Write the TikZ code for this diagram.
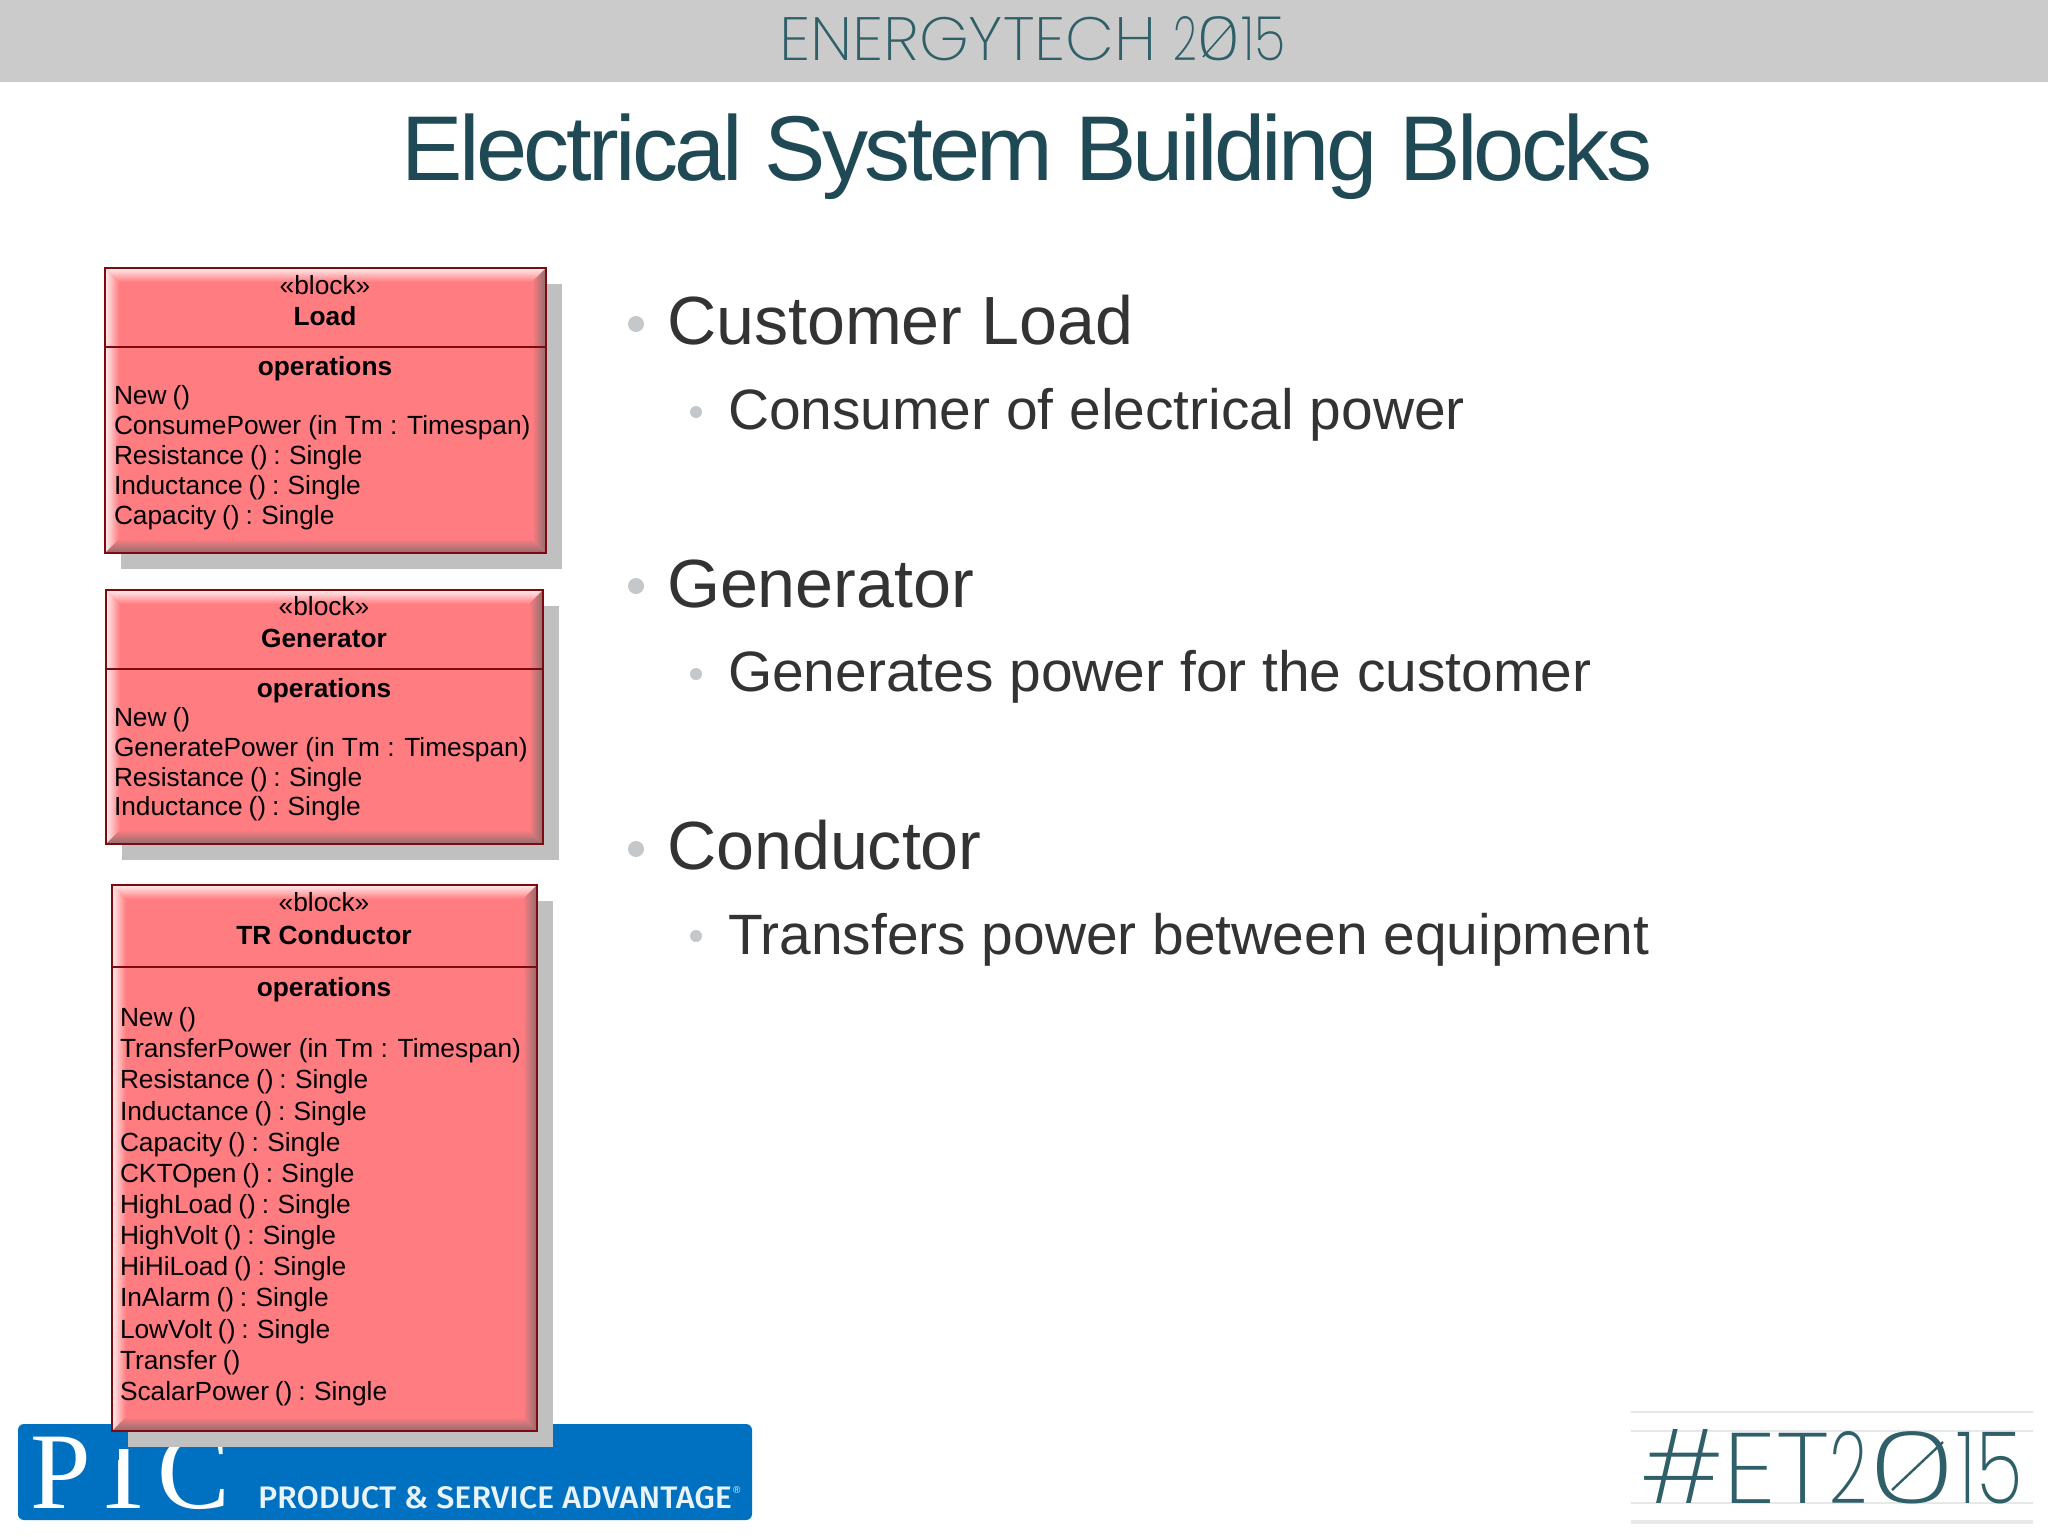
\documentclass[tikz,border=0pt]{standalone}
\usepackage{fontspec}
\usepackage{graphicx}
\setmainfont{Liberation Sans}
\newfontfamily\titlefont[LetterSpace=-3.9]{Liberation Sans}
\newfontfamily\thinfont{Poppins ExtraLight}
\newfontfamily\ptcserif{Liberation Serif}
\newfontfamily\ptcsans{Fira Sans Medium}
\usetikzlibrary{calc}
\definecolor{bandgray}{HTML}{CBCBCB}
\definecolor{teal}{HTML}{2F5F68}
\definecolor{titleteal}{HTML}{1F4A55}
\definecolor{bodytext}{HTML}{333333}
\definecolor{dotgray}{HTML}{C4C8CA}
\definecolor{blockred}{HTML}{FF7C80}
\definecolor{blockedge}{HTML}{7E0A10}
\definecolor{blocklight}{HTML}{FFEDEE}
\definecolor{blockdark}{HTML}{8C6E70}
\definecolor{shadowgray}{HTML}{C0C0C0}
\definecolor{ptcblue}{HTML}{0070C0}
\definecolor{rulegray}{HTML}{E6E8E9}
\definecolor{ptcwhite}{HTML}{E8F3FA}
\newcommand{\opfont}{\fontsize{13.15}{15}\selectfont\spaceskip=0.225em\relax}
\tikzset{
  x=0.5pt,y=-0.5pt,
  every node/.style={inner sep=0pt,outer sep=0pt},
  boxlong/.style={font=\fontsize{13.15}{15}\selectfont,anchor=base west,text=black},
  boxtext/.style={font=\opfont,anchor=base west,text=black},
  boxhead/.style={font=\fontsize{13.15}{15}\selectfont,anchor=base,text=black},
  boxbold/.style={font=\fontsize{13.15}{15}\selectfont\bfseries,anchor=base,text=black},
  bigitem/.style={font=\fontsize{34.1}{40}\selectfont,anchor=base west,text=bodytext},
  smallitem/.style={font=\fontsize{28.45}{34}\selectfont,anchor=base west,text=bodytext},
  bigdot/.style={circle,fill=dotgray,minimum size=8pt},
  smalldot/.style={circle,fill=dotgray,minimum size=6pt},
  logorule/.style={draw=rulegray,line width=0.6pt},
}
\newcommand{\umlblock}[6]{%
  \fill[shadowgray] (#1+16,#2+16) rectangle (#3+16,#4+16);
  \fill[blockred] (#1,#2) rectangle (#3,#4);
  \shade[left color=blocklight,right color=blockred] (#1,#2) -- (#1+14,#2+14) -- (#1+14,#4-14) -- (#1,#4) -- cycle;
  \shade[top color=blocklight,bottom color=blockred] (#1,#2) -- (#3,#2) -- (#3-14,#2+14) -- (#1+14,#2+14) -- cycle;
  \shade[left color=blockred,right color=blockdark] (#3,#2) -- (#3-14,#2+14) -- (#3-14,#4-14) -- (#3,#4) -- cycle;
  \shade[top color=blockred,bottom color=blockdark] (#1,#4) -- (#3,#4) -- (#3-14,#4-14) -- (#1+14,#4-14) -- cycle;
  \draw[blockedge,line width=0.9pt] (#1,#2) rectangle (#3,#4);
  \draw[blockedge,line width=0.8pt] (#1,#5) -- (#3,#5);
}
\begin{document}
\begin{tikzpicture}
\useasboundingbox (0,0) rectangle (2048,1536);
\fill[white] (0,0) rectangle (2048,1536);
\fill[bandgray] (0,0) rectangle (2048,82);
\node[anchor=south west,text=teal] (eventname) at (779,61)
  {\resizebox{253.5pt}{22pt}{\thinfont \scalebox{1.07}[1]{ENERGYTECH} \scalebox{.7}[1]{2}\scalebox{1.25}[1]{0}\scalebox{.87}[1]{15}}};
\draw[teal,line width=0.8pt] (1203,57) -- (1232,24);
\node[anchor=base,text=titleteal,font=\titlefont\fontsize{46}{54}\selectfont] (title) at (1027,180) {Electrical System Building Blocks};
\node[bigdot] (d1) at (636,324) {};
\node[bigitem] (t1) at (667,344) {Customer Load};
\node[smalldot] (d2) at (696,412) {};
\node[smallitem] (t2) at (728,429) {Consumer of electrical power};
\node[bigdot] (d3) at (636,586) {};
\node[bigitem] (t3) at (667,607) {Generator};
\node[smalldot] (d4) at (696,674) {};
\node[smallitem] (t4) at (728,691) {Generates power for the customer};
\node[bigdot] (d5) at (636,849) {};
\node[bigitem] (t5) at (667,869) {Conductor};
\node[smalldot] (d6) at (696,936) {};
\node[smallitem] (t6) at (728,954) {Transfers power between equipment};
\fill[ptcblue,rounded corners=3pt] (18,1424) rectangle (752,1520);
\node[anchor=base west,text=white,font=\ptcserif\fontsize{54.5}{60}\selectfont] (ptc) at (30,1508) {PTC};
\fill[ptcblue] (89,1428) rectangle (119,1460);
\fill[ptcblue] (119,1428) rectangle (135,1449);
\fill[ptcblue] (134,1440) rectangle (158,1460);
\node[anchor=south west,text=ptcwhite] (adv) at (258,1509)
  {\resizebox{237pt}{11pt}{\ptcsans PRODUCT \& SERVICE ADVANTAGE}};
\node[anchor=base west,text=ptcwhite,font=\fontsize{5}{5}\selectfont] (reg) at (733,1493) {®};
\umlblock{105}{268}{546}{553}{347}{load}
\node[boxhead] (l0) at (325,294) {«block»};
\node[boxbold] (l1) at (325,325) {Load};
\node[boxbold] (l2) at (325,375) {operations};
\node[boxtext] (l3) at (114,404) {New ()};
\node[boxlong] (l4) at (114,434) {ConsumePower (in Tm : Timespan)};
\node[boxtext] (l5) at (114,464) {Resistance () : Single};
\node[boxtext] (l6) at (114,494) {Inductance () : Single};
\node[boxtext] (l7) at (114,524) {Capacity () : Single};
\umlblock{106}{590}{543}{844}{669}{gen}
\node[boxhead] (g0) at (324,615) {«block»};
\node[boxbold] (g1) at (324,647) {Generator};
\node[boxbold] (g2) at (324,697) {operations};
\node[boxtext] (g3) at (114,726) {New ()};
\node[boxlong] (g4) at (114,756) {GeneratePower (in Tm : Timespan)};
\node[boxtext] (g5) at (114,786) {Resistance () : Single};
\node[boxtext] (g6) at (114,815) {Inductance () : Single};
\umlblock{112}{885}{537}{1431}{967}{tr}
\node[boxhead] (c0) at (324,911) {«block»};
\node[boxbold] (c1) at (324,944) {TR Conductor};
\node[boxbold] (c2) at (324,996) {operations};
\node[boxtext] (c3) at (120,1026) {New ()};
\node[boxlong] (c4) at (120,1057) {TransferPower (in Tm : Timespan)};
\node[boxtext] (c5) at (120,1088) {Resistance () : Single};
\node[boxtext] (c6) at (120,1120) {Inductance () : Single};
\node[boxtext] (c7) at (120,1151) {Capacity () : Single};
\node[boxtext] (c8) at (120,1182) {CKTOpen () : Single};
\node[boxtext] (c9) at (120,1213) {HighLoad () : Single};
\node[boxtext] (c10) at (120,1244) {HighVolt () : Single};
\node[boxtext] (c11) at (120,1275) {HiHiLoad () : Single};
\node[boxtext] (c12) at (120,1306) {InAlarm () : Single};
\node[boxtext] (c13) at (120,1338) {LowVolt () : Single};
\node[boxtext] (c14) at (120,1369) {Transfer ()};
\node[boxtext] (c15) at (120,1400) {ScalarPower () : Single};
\draw[logorule] (1631,1412) -- (2033,1412);
\draw[logorule] (1631,1431) -- (2033,1431);
\draw[logorule] (1631,1503) -- (2033,1503);
\draw[rulegray,line width=1.8pt] (1631,1522) -- (2033,1522);
\node[anchor=south west,text=teal] (tag) at (1640,1504)
  {\resizebox{191.5pt}{37pt}{\thinfont \scalebox{1.19}[1]{\#ET}\scalebox{.74}[1]{2}\scalebox{1.65}[1]{0}\scalebox{.85}[1]{15}}};
\draw[teal,line width=1.2pt] (1892,1490) -- (1943,1442);
\end{tikzpicture}
\end{document}
